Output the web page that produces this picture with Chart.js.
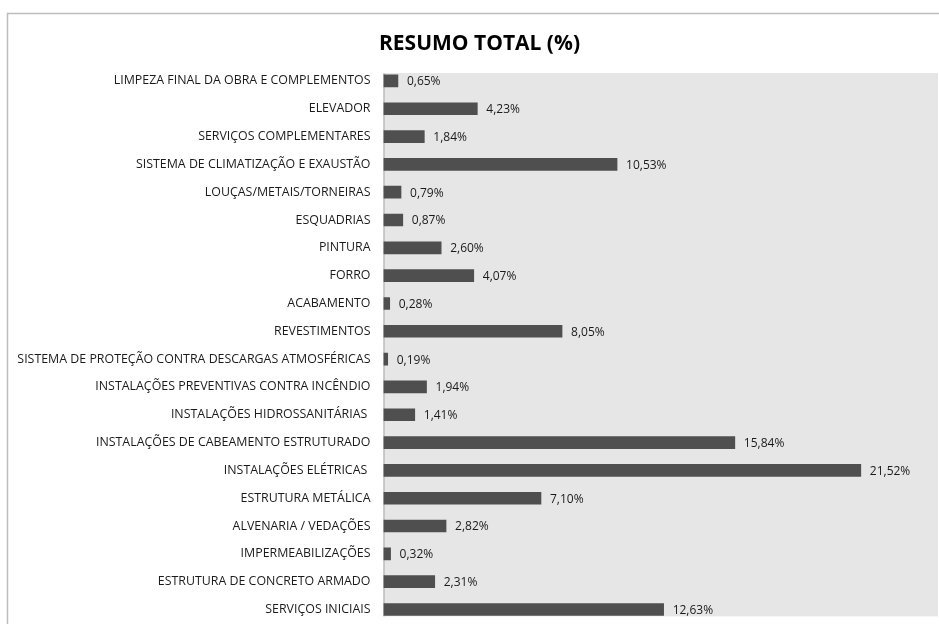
<!DOCTYPE html>
<html>
<head>
<meta charset="utf-8">
<script src="https://cdn.jsdelivr.net/npm/chart.js@4"></script>
<style>
    html, body { margin: 0; padding: 0; background: #fff; overflow: hidden; }
    #wrap { width: 939px; height: 624px; }
    canvas { display: block; }
</style>
</head>
<body>
<div id="wrap"><canvas id="resumoChart" width="939" height="624"></canvas></div>
<script>
(function () {
    'use strict';

    const titulo = "RESUMO TOTAL (%)";

    // categorias de cima para baixo
    const etapas = [
        "LIMPEZA FINAL DA OBRA E COMPLEMENTOS",
        "ELEVADOR",
        "SERVIÇOS COMPLEMENTARES",
        "SISTEMA DE CLIMATIZAÇÃO E EXAUSTÃO",
        "LOUÇAS/METAIS/TORNEIRAS",
        "ESQUADRIAS",
        "PINTURA",
        "FORRO",
        "ACABAMENTO",
        "REVESTIMENTOS",
        "SISTEMA DE PROTEÇÃO CONTRA DESCARGAS ATMOSFÉRICAS",
        "INSTALAÇÕES PREVENTIVAS CONTRA INCÊNDIO",
        "INSTALAÇÕES HIDROSSANITÁRIAS ",
        "INSTALAÇÕES DE CABEAMENTO ESTRUTURADO",
        "INSTALAÇÕES ELÉTRICAS ",
        "ESTRUTURA METÁLICA",
        "ALVENARIA / VEDAÇÕES",
        "IMPERMEABILIZAÇÕES",
        "ESTRUTURA DE CONCRETO ARMADO",
        "SERVIÇOS INICIAIS"
    ];

    const percentuais = [
        0.65, 4.23, 1.84, 10.53, 0.79, 0.87, 2.60, 4.07, 0.28, 8.05,
        0.19, 1.94, 1.41, 15.84, 21.52, 7.10, 2.82, 0.32, 2.31, 12.63
    ];

    const eixoMin = 0;
    const eixoMax = 25;

    const FONTE = "'Open Sans', 'DejaVu Sans', sans-serif";

    function fmt(v) {
        return v.toFixed(2).replace(".", ",") + "%";
    }

    // fundo branco, moldura e area cinza do grafico (estilo Excel)
    const fundoPlugin = {
        id: "fundo",
        afterLayout(chart) {
            // centraliza o titulo dentro da moldura
            if (chart.titleBlock) chart.titleBlock.left = 21;
        },
        beforeDraw(chart) {
            const { ctx, chartArea } = chart;
            ctx.save();
            ctx.fillStyle = "#ffffff";
            ctx.fillRect(0, 0, chart.width, chart.height);

            ctx.strokeStyle = "#bdbdbd";
            ctx.lineWidth = 1.5;
            ctx.strokeRect(7.5, 13.5, chart.width + 20, chart.height + 20);

            const top = chartArea.top + 6;
            const bottom = chartArea.bottom - 7;
            ctx.fillStyle = "#e6e6e6";
            ctx.fillRect(chartArea.left, top, chartArea.right - chartArea.left, bottom - top);

            ctx.strokeStyle = "#a6a6a6";
            ctx.lineWidth = 1;
            ctx.beginPath();
            ctx.moveTo(chartArea.left + 0.5, top);
            ctx.lineTo(chartArea.left + 0.5, bottom);
            ctx.stroke();
            ctx.restore();
        }
    };

    // rotulos de valor ao lado de cada barra
    const rotulosPlugin = {
        id: "rotulos",
        afterDatasetsDraw(chart) {
            const { ctx } = chart;
            const meta = chart.getDatasetMeta(0);
            ctx.save();
            ctx.font = "12px " + FONTE;
            ctx.fillStyle = "#1a1a1a";
            ctx.textAlign = "left";
            ctx.textBaseline = "middle";
            meta.data.forEach((bar, i) => {
                ctx.fillText(fmt(percentuais[i]), bar.x + 9, bar.y + 1);
            });
            ctx.restore();
        }
    };

    const ctx = document.getElementById("resumoChart");
    new Chart(ctx, {
        type: "bar",
        data: {
            labels: etapas,
            datasets: [{
                label: "Percentual",
                data: percentuais,
                backgroundColor: "#4f4f4f",
                borderWidth: 0,
                barThickness: 12
            }]
        },
        options: {
            indexAxis: "y",
            responsive: false,
            animation: false,
            layout: { padding: { left: 5, right: 1, top: 0, bottom: 0.6 } },
            plugins: {
                legend: { display: false },
                tooltip: { enabled: false },
                title: {
                    display: true,
                    text: titulo,
                    color: "#000",
                    font: { family: FONTE, size: 21, weight: "bold" },
                    padding: { top: 31, bottom: 10.8 }
                }
            },
            scales: {
                x: {
                    display: false,
                    min: eixoMin,
                    max: eixoMax
                },
                y: {
                    grid: { display: false, drawTicks: false },
                    border: { display: false },
                    ticks: {
                        color: "#1a1a1a",
                        padding: 13,
                        font: { family: FONTE, size: 12.4 }
                    },
                    afterFit(scale) {
                        scale.width = 378.5;
                        scale.paddingTop = 0;
                        scale.paddingBottom = 0;
                    }
                }
            }
        },
        plugins: [fundoPlugin, rotulosPlugin]
    });
})();
</script>
</body>
</html>
